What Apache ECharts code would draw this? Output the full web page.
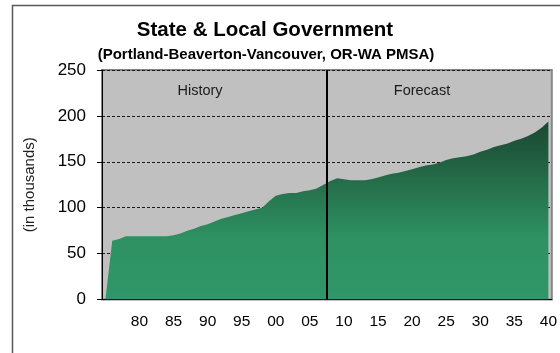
<!DOCTYPE html>
<html>
<head>
<meta charset="utf-8">
<style>
  html, body { margin: 0; padding: 0; background: #fff; }
  #chart { width: 560px; height: 353px; }
</style>
<script src="https://cdn.jsdelivr.net/npm/echarts@6/dist/echarts.min.js"></script>
</head>
<body>
<div id="chart"></div>
<script>
// Employment, State & Local Government (thousands), 1975-2040
const years = [];
for (let y = 1975; y <= 2040; y++) years.push(String(y));

const employment = [
  0, 64, 66, 69, 69, 69, 69, 69, 69, 69,          // 1975-1984
  70, 72, 75, 77, 80, 82, 85, 88, 90, 92,         // 1985-1994
  94, 96, 98, 100, 107, 113, 115, 116, 116, 118,  // 1995-2004
  119, 121, 125, 129, 132, 131, 130, 130, 130, 131, // 2005-2014
  133, 135, 137, 138, 140, 142, 144, 146, 147, 149, // 2015-2024
  152, 154, 155, 156, 158, 161, 163, 166, 168, 170, // 2025-2034
  173, 175, 178, 182, 187, 194                    // 2035-2040
];

// History / forecast split sits on the boundary between 2007 and 2008
const splitYear = [2007.5];
const yTicks = [0, 50, 100, 150, 200, 250];

const FONT = '"Liberation Sans", Arial, sans-serif';
const chart = echarts.init(document.getElementById('chart'));

chart.setOption({
  animation: false,
  backgroundColor: '#ffffff',
  grid: {
    left: 102, right: 5, top: 70, bottom: 53.5,
    show: true,
    backgroundColor: '#c0c0c0',
    borderColor: '#868686',
    borderWidth: 2
  },
  graphic: [
    {
      type: 'rect', silent: true, z: -10,
      shape: { x: 12.5, y: 5.5, width: 700, height: 500 },
      style: { fill: 'none', stroke: '#5a5a5a', lineWidth: 1.5 }
    },
    {
      type: 'text', x: 265, y: 30,
      style: { text: 'State & Local Government', font: 'bold 20.5px ' + FONT,
               fill: '#000', textAlign: 'center', textVerticalAlign: 'middle' }
    },
    {
      type: 'text', x: 266, y: 55,
      style: { text: '(Portland-Beaverton-Vancouver, OR-WA PMSA)', font: 'bold 15px ' + FONT,
               fill: '#000', textAlign: 'center', textVerticalAlign: 'middle' }
    },
    {
      type: 'text', x: 200, y: 91, z: 100,
      style: { text: 'History', font: '14.5px ' + FONT,
               fill: '#1a1a1a', textAlign: 'center', textVerticalAlign: 'middle' }
    },
    {
      type: 'text', x: 422, y: 91, z: 100,
      style: { text: 'Forecast', font: '14.5px ' + FONT,
               fill: '#1a1a1a', textAlign: 'center', textVerticalAlign: 'middle' }
    }
  ],
  xAxis: [
    {
      type: 'category',
      data: years,
      boundaryGap: true,
      axisLine: { lineStyle: { color: '#000', width: 1 } },
      axisTick: {
        length: 4,
        interval: (i) => i % 5 === 0,
        lineStyle: { color: '#000' }
      },
      axisLabel: {
        interval: (i) => i % 5 === 0 && i > 0,
        formatter: (v) => v.slice(2),
        color: '#000',
        fontFamily: FONT,
        fontSize: 15.5,
        margin: 14
      },
      splitLine: { show: false }
    },
    {
      // numeric companion axis for placing the split line between years
      type: 'value',
      min: 1974.5, max: 2040.5,
      show: false,
      position: 'bottom'
    }
  ],
  yAxis: {
    type: 'value',
    min: yTicks[0], max: yTicks[yTicks.length - 1], interval: 50,
    name: '(in thousands)',
    nameLocation: 'middle',
    nameRotate: 90,
    nameGap: 65,
    nameTextStyle: { color: '#222', fontFamily: FONT, fontSize: 15 },
    axisLine: { show: true, lineStyle: { color: '#000', width: 1 } },
    axisTick: { show: true, length: 5, lineStyle: { color: '#000' } },
    axisLabel: { color: '#000', fontFamily: FONT, fontSize: 17, margin: 16 },
    splitLine: {
      show: true,
      lineStyle: { color: '#1a1a1a', type: [3, 2], width: 1 }
    }
  },
  series: [
    {
      name: 'State & Local Government',
      type: 'line',
      data: employment,
      xAxisIndex: 0,
      symbol: 'none',
      smooth: false,
      lineStyle: { width: 0 },
      areaStyle: {
        opacity: 1,
        color: new echarts.graphic.LinearGradient(0, 0, 0, 1, [
          { offset: 0, color: '#1a4731' },
          { offset: 0.65, color: '#2e9162' },
          { offset: 1, color: '#30976a' }
        ])
      },
      silent: true
    },
    {
      name: 'split',
      type: 'line',
      xAxisIndex: 1,
      data: [],
      symbol: 'none',
      silent: true,
      markLine: {
        silent: true,
        symbol: 'none',
        label: { show: false },
        lineStyle: { color: '#000', width: 2, type: 'solid' },
        data: splitYear.map((v) => ({ xAxis: v }))
      },
      z: 5
    }
  ]
});
</script>
</body>
</html>
